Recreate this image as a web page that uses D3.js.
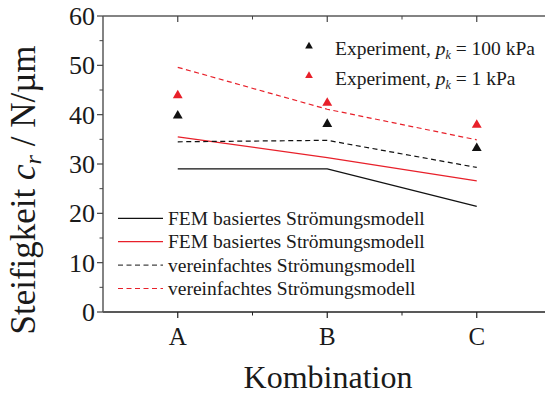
<!DOCTYPE html>
<html>
<head>
<meta charset="utf-8">
<script src="https://cdn.jsdelivr.net/npm/d3@7/dist/d3.min.js"></script>
<style>
  html, body { margin: 0; padding: 0; background: #fff; }
  svg { display: block; }
  text { font-family: "Liberation Serif", "Times New Roman", serif; fill: #1a1a1a; }
</style>
</head>
<body>
<svg id="chart" width="545" height="395"></svg>
<script>
// Combinations on the x axis
const categories = ["A", "B", "C"];

// Measured stiffness c_r in N/µm
const expHigh = [39.8, 38.1, 33.2];   // Experiment, p_k = 100 kPa
const expLow  = [43.9, 42.4, 37.9];   // Experiment, p_k = 1 kPa

// Simulated stiffness c_r in N/µm
const femHigh    = [29.0, 29.0, 21.4]; // FEM-based flow model, 100 kPa
const femLow     = [35.5, 31.3, 26.6]; // FEM-based flow model, 1 kPa
const simpleHigh = [34.5, 34.8, 29.3]; // simplified flow model, 100 kPa
const simpleLow  = [49.6, 41.1, 34.9]; // simplified flow model, 1 kPa

const yTicks = [0, 10, 20, 30, 40, 50, 60];
const yMinorTicks = [5, 15, 25, 35, 45, 55];

const BLACK = "#111111";
const RED = "#e8202a";

const svg = d3.select("#chart");

const plotLeft = 103, plotTop = 16, plotBottom = 312, step = 149.5;
const x = d3.scaleBand().domain(categories).range([plotLeft, plotLeft + step * categories.length]).padding(0);
const cx = c => x(c) + x.bandwidth() / 2;
const y = d3.scaleLinear().domain([0, 60]).range([plotBottom, plotTop]);
const plotRight = plotLeft + step * categories.length;

// Frame: top and bottom rules, left axis
const axisG = svg.append("g");
axisG.append("line").attr("x1", plotLeft).attr("x2", plotRight).attr("y1", plotTop).attr("y2", plotTop)
  .attr("stroke", "#5a5a5a").attr("stroke-width", 1.5);
axisG.append("line").attr("x1", plotLeft).attr("x2", plotRight).attr("y1", plotBottom).attr("y2", plotBottom)
  .attr("stroke", "#222").attr("stroke-width", 1.5);
axisG.append("line").attr("x1", plotLeft).attr("x2", plotLeft).attr("y1", plotTop).attr("y2", plotBottom)
  .attr("stroke", "#5a5a5a").attr("stroke-width", 1.5);

// Category ticks (bottom outward, top inward) and minor ticks between categories
const minorX = categories.slice(0, -1).map(c => x(c) + x.bandwidth());
categories.forEach(c => {
  axisG.append("line").attr("x1", cx(c)).attr("x2", cx(c)).attr("y1", plotBottom).attr("y2", plotBottom + 6)
    .attr("stroke", "#222").attr("stroke-width", 1.2);
  axisG.append("line").attr("x1", cx(c)).attr("x2", cx(c)).attr("y1", plotTop).attr("y2", plotTop + 6)
    .attr("stroke", "#444").attr("stroke-width", 1.2);
});
minorX.forEach(px => {
  axisG.append("line").attr("x1", px).attr("x2", px).attr("y1", plotBottom).attr("y2", plotBottom + 3.5)
    .attr("stroke", "#222").attr("stroke-width", 1);
  axisG.append("line").attr("x1", px).attr("x2", px).attr("y1", plotTop).attr("y2", plotTop + 3.5)
    .attr("stroke", "#444").attr("stroke-width", 1);
});

// Y ticks and labels
yTicks.forEach(v => {
  axisG.append("line").attr("x1", plotLeft - 6).attr("x2", plotLeft).attr("y1", y(v)).attr("y2", y(v))
    .attr("stroke", "#444").attr("stroke-width", 1.2);
  axisG.append("text").attr("x", plotLeft - 8).attr("y", y(v) + 9)
    .attr("text-anchor", "end").attr("font-size", 26).text(v);
});
yMinorTicks.forEach(v => {
  axisG.append("line").attr("x1", plotLeft - 3.5).attr("x2", plotLeft).attr("y1", y(v)).attr("y2", y(v))
    .attr("stroke", "#444").attr("stroke-width", 1);
});

// Category labels
categories.forEach(c => {
  axisG.append("text").attr("x", cx(c)).attr("y", 344.5)
    .attr("text-anchor", "middle").attr("font-size", 25).text(c);
});

// Axis titles
svg.append("text").attr("x", 328).attr("y", 388).attr("text-anchor", "middle")
  .attr("font-size", 32).text("Kombination");

const yTitle = svg.append("text").attr("transform", "translate(35,190) rotate(-90)")
  .attr("text-anchor", "middle").attr("font-size", 35);
yTitle.append("tspan").text("Steifigkeit ");
yTitle.append("tspan").attr("font-style", "italic").text("c");
yTitle.append("tspan").attr("font-style", "italic").attr("font-size", 24).attr("dy", 6).text("r");
yTitle.append("tspan").attr("dy", -6).text(" / N/µm");

// Model lines
const line = d3.line().x((d, i) => cx(categories[i])).y(d => y(d));
const series = [
  { values: femHigh, color: BLACK, dash: null, width: 1.3 },
  { values: femLow, color: RED, dash: null, width: 1.3 },
  { values: simpleHigh, color: BLACK, dash: "5,3.5", width: 1.2 },
  { values: simpleLow, color: RED, dash: "5,3.5", width: 1.2 }
];
series.forEach(s => {
  svg.append("path").datum(s.values).attr("d", line)
    .attr("fill", "none").attr("stroke", s.color).attr("stroke-width", s.width)
    .attr("stroke-dasharray", s.dash);
});

// Experimental points
const tri = d3.symbol().type(d3.symbolTriangle).size(42);
[{ values: expHigh, color: BLACK }, { values: expLow, color: RED }].forEach(s => {
  svg.append("g").selectAll("path").data(s.values).join("path")
    .attr("d", tri)
    .attr("transform", (d, i) => `translate(${cx(categories[i])},${y(d)})`)
    .attr("fill", s.color);
});

// Legend for experiments
const triSmall = d3.symbol().type(d3.symbolTriangle).size(26);
[{ p: "100", color: BLACK, ty: 46.3, by: 55 }, { p: "1", color: RED, ty: 75.7, by: 85 }].forEach(r => {
  svg.append("path").attr("d", triSmall).attr("transform", `translate(309,${r.ty})`).attr("fill", r.color);
  const t = svg.append("text").attr("x", 335).attr("y", r.by).attr("font-size", 19.5);
  t.append("tspan").text("Experiment, ");
  t.append("tspan").attr("font-style", "italic").text("p");
  t.append("tspan").attr("font-style", "italic").attr("font-size", 12).attr("dy", 4).text("k");
  t.append("tspan").attr("dy", -4).text(` = ${r.p} kPa`);
});

// Legend for models
const modelLabels = ["FEM basiertes Strömungsmodell", "FEM basiertes Strömungsmodell",
  "vereinfachtes Strömungsmodell", "vereinfachtes Strömungsmodell"];
const legendColors = [BLACK, RED, "#444", RED];
series.forEach((s, i) => {
  const ly = 218.3 + i * 23.4;
  svg.append("line").attr("x1", 118).attr("x2", 163).attr("y1", ly).attr("y2", ly)
    .attr("stroke", legendColors[i]).attr("stroke-width", s.width).attr("stroke-dasharray", s.dash);
  svg.append("text").attr("x", 168).attr("y", ly + 6.7).attr("font-size", 19.5).text(modelLabels[i]);
});
</script>
</body>
</html>
